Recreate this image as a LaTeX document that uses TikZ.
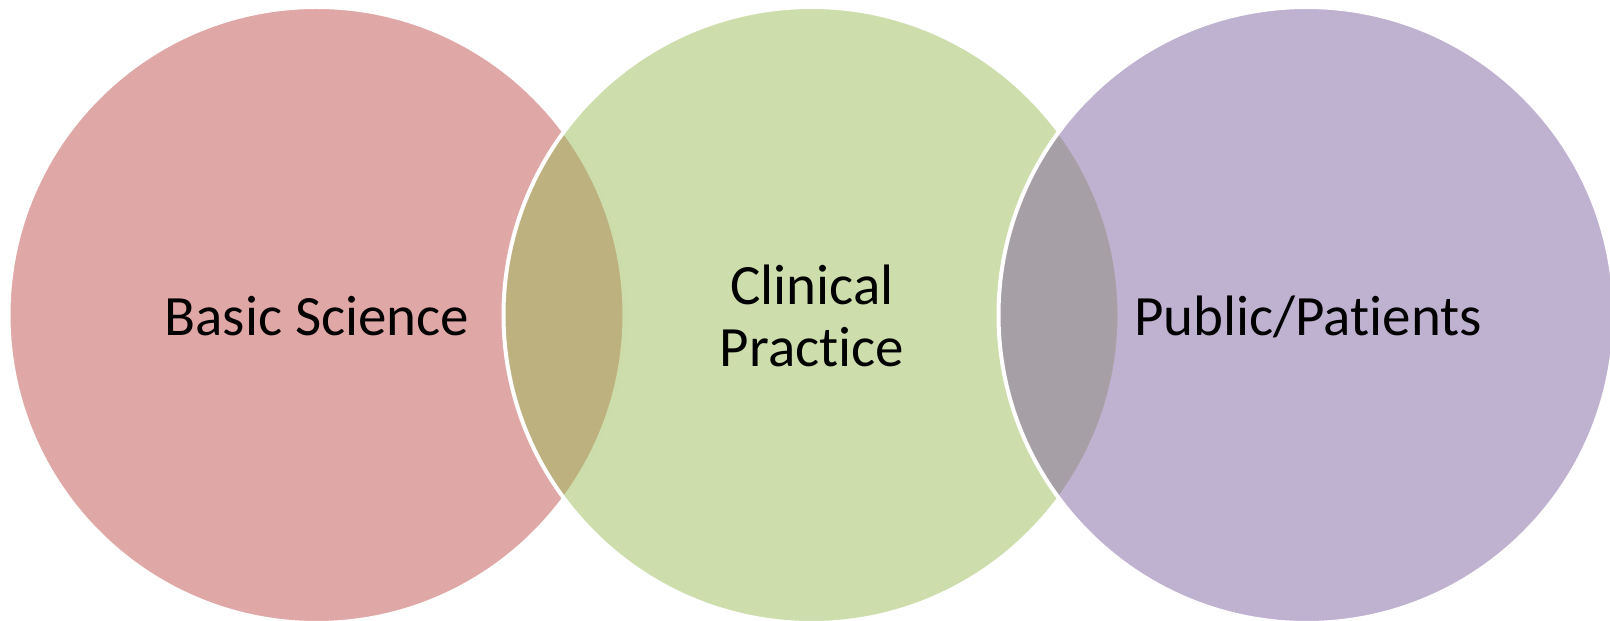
\documentclass[tikz,border=0pt]{standalone}
\usepackage{fontspec}
\setmainfont[Ligatures={NoCommon}]{Carlito}
\definecolor{vred}{HTML}{C0504D}
\definecolor{vgreen}{HTML}{9BBB59}
\definecolor{vpurple}{HTML}{8064A2}
\tikzset{
  venn/.style={circle, minimum size=616pt, inner sep=0pt, draw=white, line width=4pt, fill opacity=0.5, draw opacity=1},
  lbl/.style={font=\fontsize{57}{62}\selectfont, text=black, inner sep=0pt, align=center, anchor=base},
}
\begin{document}
\begin{tikzpicture}[x=1pt,y=1pt]
\useasboundingbox (0,0) rectangle (1610,621);
\clip (0,0) rectangle (1610,621);
\node[venn, fill=vred] (bs) at (316.5,306) {};
\node[venn, fill=vgreen] (cp) at (811.5,306) {};
\node[venn, fill=vpurple] (pp) at (1306.5,306) {};
\node[lbl] (tbs) at (317,285) {Basic Science};
\node[lbl] (tcp) at (812,254) {Clinical\\Practice};
\node[lbl] (tpp) at (1308,285) {Public/Patients};
\end{tikzpicture}
\end{document}
